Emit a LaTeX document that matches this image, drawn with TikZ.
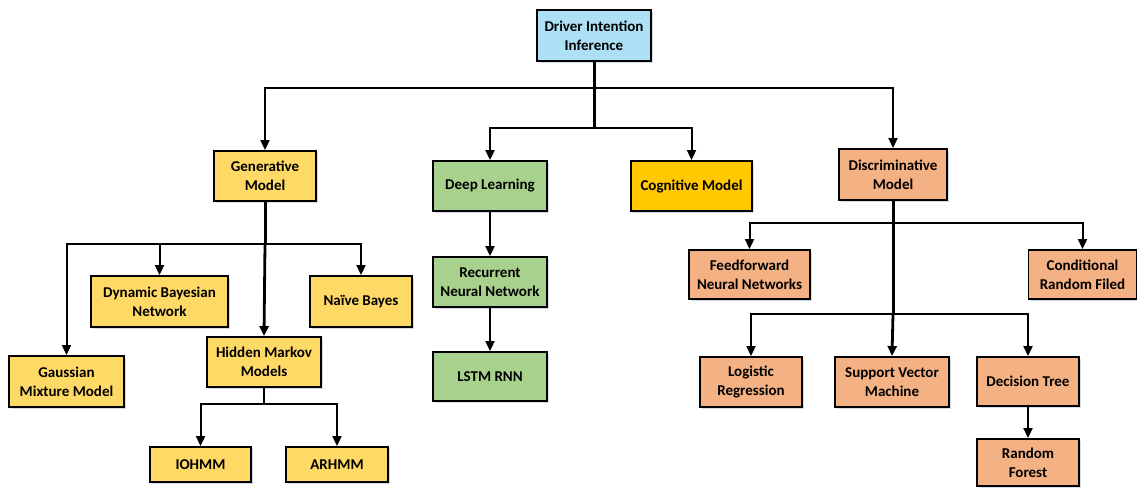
\documentclass[tikz,border=0pt]{standalone}
\usepackage{fontspec}
\setmainfont{Carlito}
\usetikzlibrary{arrows.meta}
\definecolor{cRoot}{HTML}{ADDFF5}
\definecolor{cGen}{HTML}{FFD966}
\definecolor{cDeep}{HTML}{A9D18E}
\definecolor{cCog}{HTML}{FFC800}
\definecolor{cDisc}{HTML}{F4B183}
\definecolor{cShade}{HTML}{D5DCE8}
\tikzset{
  box/.style={draw=black, line width=1.9pt, align=center, inner sep=0pt,
    font=\bfseries\fontsize{15}{19}\selectfont, text=black,
    preaction={fill=cShade, transform canvas={shift={(1.8pt,-2.2pt)}}}},
  rootbox/.style={box, fill=cRoot},
  genbox/.style={box, fill=cGen},
  deepbox/.style={box, fill=cDeep},
  cogbox/.style={box, fill=cCog},
  discbox/.style={box, fill=cDisc},
  link/.style={line width=2pt, -{Triangle[length=10pt,width=9pt]}},
  plain/.style={line width=2pt},
  trunk/.style={line width=3pt},
  trunkarr/.style={line width=2.8pt, -{Triangle[length=10pt,width=9pt]}},
}
\newcommand{\boxat}[6]{% style, name, cx, cy, w, h
  \node[#1, minimum width=#5pt, minimum height=#6pt] (#2) at (#3,#4)}
\begin{document}
\begin{tikzpicture}[x=1pt, y=-1pt]
\useasboundingbox (0,0) rectangle (1137,488);

% root
\boxat{rootbox}{root}{594}{35.5}{114}{51} {Driver Intention\\Inference};

% first level
\boxat{genbox}{gen}{265}{176}{102}{50} {Generative\\Model};
\boxat{deepbox}{dl}{490}{186}{114}{50} {Deep Learning};
\boxat{cogbox}{cog}{691.5}{186}{121}{50} {Cognitive Model};
\boxat{discbox}{disc}{893}{174.5}{108}{51} {Discriminative\\Model};

% generative branch
\boxat{genbox}{dbn}{159.5}{301.5}{137}{51} {Dynamic Bayesian\\Network};
\boxat{genbox}{nb}{361}{301.5}{102}{51} {Naïve Bayes};
\boxat{genbox}{hmm}{264}{362}{114}{50} {Hidden Markov\\Models};
\boxat{genbox}{gmm}{66.5}{381.5}{115}{51} {Gaussian\\Mixture Model};
\boxat{genbox}{io}{200.5}{464.5}{101}{35} {IOHMM};
\boxat{genbox}{ar}{337}{464.5}{102}{35} {ARHMM};

% deep learning branch
\boxat{deepbox}{rnn}{490}{282}{114}{50} {Recurrent\\Neural Network};
\boxat{deepbox}{lstm}{490}{376.5}{114}{49} {LSTM RNN};

% discriminative branch
\boxat{discbox}{fnn}{749.5}{274.5}{121}{49} {Feedforward\\Neural Networks};
\boxat{discbox}{crf}{1082.5}{274.5}{108}{49} {Conditional\\Random Filed};
\boxat{discbox}{lr}{751}{382}{102}{50} {Logistic\\Regression};
\boxat{discbox}{svm}{892}{382}{114}{50} {Support Vector\\Machine};
\boxat{discbox}{dt}{1028}{381.5}{102}{49} {Decision Tree};
\boxat{discbox}{rf}{1028}{462.5}{102}{47} {Random\\Forest};

% junction points
\coordinate (j1) at (594,88);
\coordinate (j2) at (594,128);
\coordinate (jg) at (265,244);
\coordinate (jh) at (264,404);
\coordinate (jd1) at (893,223);
\coordinate (jd2) at (893,314);

% root connectors
\draw[trunk] (root.south) -- (j2);
\draw[link] (j1) -| (gen.north);
\draw[link] (j1) -| (disc.north);
\draw[link] (j2) -| (dl.north);
\draw[link] (j2) -| (cog.north);

% generative connectors
\draw[trunk] (gen.south) -- (jg);
\draw[link] (jg) -| (gmm.north);
\draw[link] (jg) -| (dbn.north);
\draw[link] (jg) -| (nb.north);
\draw[trunkarr] (jg) -- (hmm.north);
\draw[plain] (hmm.south) -- (jh);
\draw[link] (jh) -| (io.north);
\draw[link] (jh) -| (ar.north);

% deep learning connectors
\draw[link] (dl.south) -- (rnn.north);
\draw[link] (rnn.south) -- (lstm.north);

% discriminative connectors
\draw[trunk] (disc.south) -- (jd2);
\draw[link] (jd1) -| (fnn.north);
\draw[link] (jd1) -| (crf.north);
\draw[link] (jd2) -| (lr.north);
\draw[link] (jd2) -| (dt.north);
\draw[trunkarr] (jd2) -- (svm.north);
\draw[link] (dt.south) -- (rf.north);
\end{tikzpicture}
\end{document}
